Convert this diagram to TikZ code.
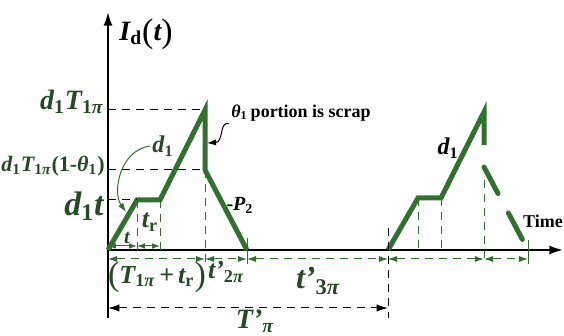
\documentclass[tikz,border=0pt]{standalone}
\usepackage{amsmath}
\usepackage{fontspec}
\setmainfont{Liberation Serif}
\usetikzlibrary{arrows.meta,positioning,calc}

\definecolor{wavegreen}{RGB}{50,112,48}
\definecolor{labelgreen}{RGB}{38,74,38}
\newcommand{\bi}[1]{\text{\bfseries\itshape #1}}
\newcommand{\bu}[1]{\text{\bfseries #1}}
\newcommand{\fs}[1]{\fontsize{#1}{#1}\selectfont}
\newcommand{\bigpar}[1]{\text{\fs{17}\raisebox{-1pt}{#1}}}

\begin{document}
\begin{tikzpicture}[x=0.5pt, y=-0.5pt,
  axis/.style={-{Latex[length=2.4mm,width=1.6mm]}, line width=1pt},
  wave/.style={wavegreen, line width=2.5pt, line join=miter},
  guide/.style={line width=0.5pt, dash pattern=on 4pt off 3pt},
  gguide/.style={guide, wavegreen},
  dimarrow/.style={gguide, {Latex[length=1.6mm,width=1.1mm]}-{Latex[length=1.6mm,width=1.1mm]}},
  small/.style={wavegreen, line width=0.5pt, {Latex[length=1.4mm,width=1mm]}-{Latex[length=1.4mm,width=1mm]}},
  glabel/.style={labelgreen, inner sep=1pt},
  blabel/.style={black, inner sep=1pt}
]
\useasboundingbox (0,0) rectangle (564,336);

% axes
\coordinate (origin) at (108,250);
\coordinate (ytop)   at (108,12);
\coordinate (ybot)   at (108,318);
\coordinate (xend)   at (563,250);
\draw[axis] (ybot)--(ytop);
\draw[axis] (origin)--(xend);

% first pulse
\coordinate (a1) at (137,200);
\coordinate (a2) at (160,200);
\coordinate (a3) at (205,110);
\coordinate (a4) at (205,170);
\coordinate (a5) at (247,250);
\draw[wave] (origin)--(a1)--(a2)--(a3)--(a4)--(a5);

% second pulse
\coordinate (b0) at (388,250);
\coordinate (b1) at (418,198);
\coordinate (b2) at (441,198);
\coordinate (b3) at (484,112);
\coordinate (b4) at (484,145);
\coordinate (b5) at (484,167);
\coordinate (b6) at (528,250);
\draw[wave] (b0)--(b1)--(b2)--(b3)--(b4);
\draw[wave, line cap=round, dash pattern=on 15pt off 11pt] (b5)--(b6);

% level guides
\draw[guide] (108,110)--(a3);
\draw[guide] (108,170)--(a4);
\draw[guide] (108,200)--(a1);
\draw[gguide] (a1)--(137,255);
\draw[gguide] (a2)--(160,255);
\draw[gguide] (a4)--(205,266);
\draw[wavegreen, line width=0.5pt] (247,238)--(247,264);
\draw[gguide] (b1)--(418,250);
\draw[gguide] (b2)--(441,250);
\draw[gguide] (484,180)--(484,264);
\draw[wavegreen, line width=0.5pt] (528,240)--(528,264);
\draw[guide] (388,228)--(388,318);

% time spans
\draw[small] (108,246)--(137,246);
\draw[small] (137,246)--(160,246);
\draw[dimarrow] (108,259)--(205,259);
\draw[dimarrow] (205,259)--(247,259);
\draw[dimarrow] (247,259)--(388,259);
\draw[dimarrow] (388,259)--(484,259);
\draw[dimarrow] (484,259)--(528,259);
\draw[guide, {Latex[length=2mm,width=1.3mm]}-{Latex[length=2mm,width=1.3mm]}] (108,308)--(388,308);

% labels
\node[blabel, font=\fs{14}] (id) at (146,34) {$\bi{I}_{\bu{d}}\bigpar{(}\bi{t}\bigpar{)}$};
\node[glabel, font=\fs{14}, anchor=east] (peak) at (106,102) {$\bi{d}_{\bu{1}}\bi{T}_{\bu{1}\bi{π}}$};
\node[glabel, font=\fs{11}, anchor=east] (scraplevel) at (107,166) {$\bi{d}_{\bu{1}}\bi{T}_{\bu{1}\bi{π}}\bu{(1-}\bi{θ}_{\bu{1}}\bu{)}$};
\node[glabel, font=\fs{17}, anchor=east] (dt) at (106,206) {$\bi{d}_{\bu{1}}\bi{t}$};
\node[glabel, font=\fs{12}] (slope) at (163,146) {$\bi{d}_{\bu{1}}$};
\node[glabel, font=\fs{10}] (tlab) at (127,238) {$\bi{t}$};
\node[glabel, font=\fs{13}] (trlab) at (150,222) {$\bi{t}_{\bu{r}}$};
\node[blabel, font=\fs{9}, anchor=west] (scrap) at (229,113) {$\bi{θ}_{\bu{1}}$\,\bfseries portion is scrap};
\node[blabel, font=\fs{10}] (p2) at (240,205) {$\bu{-}\bi{P}_{\bu{2}}$};
\node[blabel, font=\fs{9}\bfseries] (time) at (543,221) {Time};
\node[blabel, font=\fs{12}] (slope2) at (448,148) {$\bi{d}_{\bu{1}}$};
\node[glabel, font=\fs{13}] (span1) at (157,277) {$\bigpar{(}\bi{T}_{\bu{1}\bi{π}}\,\bu{+}\,\bi{t}_{\bu{r}}\bigpar{)}$};
\node[glabel, font=\fs{13}] (span2) at (226,272) {$\bi{t'}_{\bu{2}\bi{π}}$};
\node[glabel, font=\fs{16}] (span3) at (318,281) {$\bi{t'}_{\bu{3}\bi{π}}$};
\node[glabel, font=\fs{14}] (period) at (255,321) {$\bi{T'}_{\bi{π}}$};

% pointers
\coordinate (ramp) at (126,212);
\coordinate (drop) at (207,143);
\draw[wavegreen, line width=0.5pt, -{Latex[length=1.6mm,width=1.1mm]}] (slope.west) .. controls (120,150) and (112,192) .. (ramp);
\draw[black, line width=0.5pt, -{Latex[length=1.6mm,width=1.1mm]}] (scrap.south west) .. controls (219,121) and (224,142) .. (drop);
\end{tikzpicture}
\end{document}
